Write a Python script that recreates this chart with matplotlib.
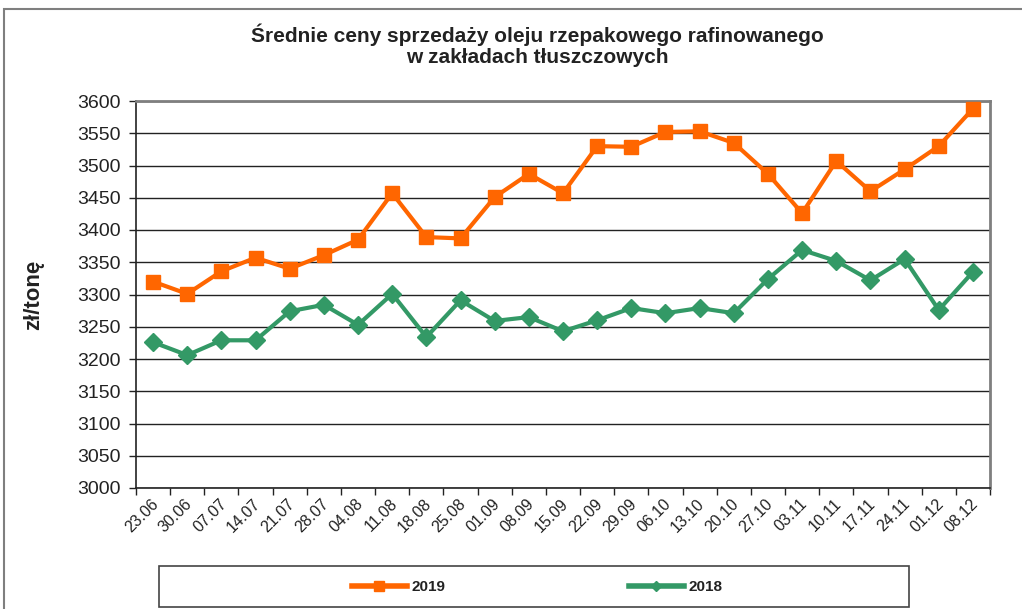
import numpy as np
import matplotlib.pyplot as plt
import matplotlib.transforms as mtransforms
from matplotlib.patches import Rectangle
from matplotlib.lines import Line2D

plt.rcParams['font.family'] = ['Liberation Sans', 'DejaVu Sans']

# daty notowan
daty = ['23.06', '30.06', '07.07', '14.07', '21.07', '28.07', '04.08', '11.08',
        '18.08', '25.08', '01.09', '08.09', '15.09', '22.09', '29.09', '06.10',
        '13.10', '20.10', '27.10', '03.11', '10.11', '17.11', '24.11', '01.12',
        '08.12']

# ceny zl/tone
ceny_2019 = [3320, 3301, 3336, 3357, 3340, 3361, 3385, 3457, 3389, 3387,
             3451, 3487, 3457, 3530, 3529, 3552, 3553, 3535, 3487, 3426,
             3507, 3460, 3494, 3530, 3588]
ceny_2018 = [3226, 3206, 3229, 3229, 3274, 3284, 3253, 3301, 3234, 3291,
             3259, 3265, 3243, 3260, 3279, 3271, 3279, 3271, 3324, 3369,
             3352, 3322, 3355, 3276, 3335]

kolor_2019 = '#FF6600'
kolor_2018 = '#339966'

fig = plt.figure(figsize=(10.22, 6.09), dpi=100)
W, H = 1022, 609

# ramka wykresu
fig.patches.append(Rectangle((4 / W, -0.02), 1.1, 1.02 - 9 / H, transform=fig.transFigure,
                             fill=False, edgecolor='#7f7f7f', lw=1.5))

ax = fig.add_axes([136 / W, 1 - 488 / H, 854 / W, 387 / H])
x = np.arange(len(daty))

ax.plot(x, ceny_2019, color=kolor_2019, lw=3, marker='s', markersize=10, zorder=3,
        clip_on=False, label='2019')
ax.plot(x, ceny_2018, color=kolor_2018, lw=3, marker='D', markersize=9, zorder=3,
        clip_on=False, label='2018')

ax.set_xlim(-0.5, len(daty) - 0.5)
ax.set_ylim(3000, 3600)
ax.set_yticks(np.arange(3000, 3601, 50))
ax.yaxis.grid(True, color='#222222', lw=1)
ax.set_axisbelow(True)

ax.set_xticks(x)
ax.set_xticklabels(daty, rotation=45, ha='right', fontsize=11.5, color='#222222')
ax.set_xticks(np.arange(-0.5, len(daty)), minor=True)
ax.tick_params(axis='x', which='major', length=0, pad=6)
ax.tick_params(axis='x', which='minor', length=5, width=1, color='#222222')
ax.tick_params(axis='y', length=5, width=1, color='#222222', labelsize=14,
               labelcolor='#222222', pad=6)
przesun = mtransforms.ScaledTranslation(8 / 100, 0, fig.dpi_scale_trans)
for lab in ax.get_xticklabels():
    lab.set_transform(lab.get_transform() + przesun)

for s in ['left', 'bottom']:
    ax.spines[s].set_color('#222222')
    ax.spines[s].set_linewidth(1.2)
for s in ['top', 'right']:
    ax.spines[s].set_color('#7f7f7f')
    ax.spines[s].set_linewidth(2)

ax.set_ylabel('zł/tonę', fontsize=16, fontweight='bold', color='#222222', labelpad=24)

fig.text(537 / W, 1 - 45 / H, 'Średnie ceny sprzedaży oleju rzepakowego rafinowanego\nw zakładach tłuszczowych',
         ha='center', va='center', fontsize=15, fontweight='bold', color='#222222',
         linespacing=1.15)

# legenda
fig.patches.append(Rectangle((159 / W, 1 - 607 / H), 750 / W, 41 / H, transform=fig.transFigure,
                             fill=False, edgecolor='#444444', lw=1.2))
uchwyty = [Line2D([], [], color=kolor_2019, lw=4, marker='s', markersize=7),
           Line2D([], [], color=kolor_2018, lw=4, marker='D', markersize=5)]
leg = fig.legend(uchwyty, ['2019', '2018'], loc='center', bbox_to_anchor=(537 / W, 1 - 587 / H),
                 ncol=2, frameon=False, handlelength=3.6, columnspacing=12, handletextpad=0.3,
                 prop={'weight': 'bold', 'size': 11})
for t in leg.get_texts():
    t.set_color('#222222')

fig.savefig('out.png', dpi=100)
